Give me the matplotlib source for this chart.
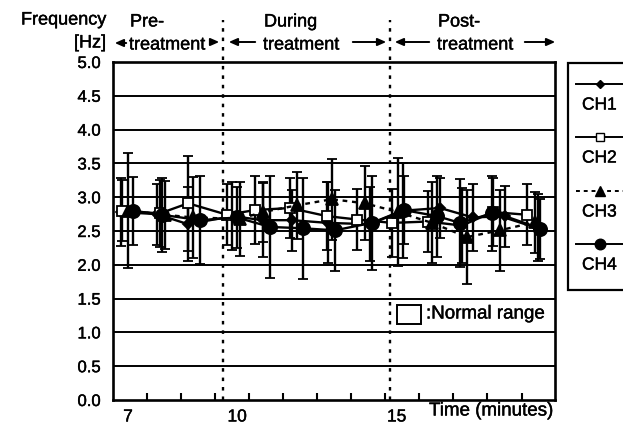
import numpy as np
import matplotlib
matplotlib.use("Agg")
import matplotlib.pyplot as plt
import matplotlib.patheffects as pe
from matplotlib.lines import Line2D
from matplotlib.patches import Rectangle, FancyArrowPatch

plt.rcParams['font.family'] = ['Liberation Sans', 'DejaVu Sans']

# ---- data (time in minutes, frequency in Hz, error = SD) ----
ch1_t = [6.79, 7.86, 8.79, 10.10, 11.02, 11.88, 12.95, 14.20, 15.18, 16.29, 17.27, 18.22, 19.20]
ch1_v = [2.78, 2.75, 2.60, 2.72, 2.66, 2.66, 2.62, 2.60, 2.80, 2.84, 2.70, 2.72, 2.55]
ch1_e = [0.50, 0.45, 0.55, 0.50, 0.55, 0.45, 0.60, 0.55, 0.70, 0.45, 0.50, 0.45, 0.50]

ch2_t = [6.82, 7.95, 8.79, 9.95, 10.78, 11.82, 12.92, 13.82, 14.86, 15.93, 16.94, 17.86, 18.88]
ch2_v = [2.80, 2.76, 2.91, 2.74, 2.81, 2.84, 2.72, 2.67, 2.62, 2.64, 2.58, 2.78, 2.74]
ch2_e = [0.45, 0.50, 0.70, 0.45, 0.50, 0.45, 0.50, 0.45, 0.50, 0.45, 0.55, 0.50, 0.45]

ch3_t = [7.00, 8.10, 8.93, 10.33, 11.02, 12.03, 13.07, 14.05, 15.04, 16.05, 17.09, 18.07, 19.11]
ch3_v = [2.80, 2.74, 2.70, 2.68, 2.78, 2.88, 2.97, 2.91, 2.78, 2.62, 2.41, 2.51, 2.63]
ch3_e = [0.85, 0.50, 0.60, 0.55, 0.45, 0.50, 0.60, 0.55, 0.80, 0.60, 0.70, 0.60, 0.45]

ch4_t = [7.15, 8.01, 9.14, 10.24, 11.23, 12.21, 13.16, 14.26, 15.21, 16.20, 16.88, 17.83, 19.26]
ch4_v = [2.80, 2.74, 2.66, 2.70, 2.56, 2.54, 2.51, 2.62, 2.81, 2.72, 2.62, 2.76, 2.53]
ch4_e = [0.50, 0.55, 0.65, 0.45, 0.75, 0.75, 0.60, 0.70, 0.50, 0.60, 0.65, 0.55, 0.45]

y_ticks = [0.0, 0.5, 1.0, 1.5, 2.0, 2.5, 3.0, 3.5, 4.0, 4.5, 5.0]
x_labels = ["7", "10", "15"]
x_label_pos = [7, 10.25, 15]
phase_bounds = [9.83, 14.80]

W, H = 623, 425
FX = dict(path_effects=[pe.withStroke(linewidth=0.3, foreground='black')])

fig = plt.figure(figsize=(W / 100, H / 100), dpi=100)
ax = fig.add_axes([113 / W, 1 - 400 / H, 442 / W, 338 / H])
ax.set_xlim(6.554, 19.71)
ax.set_ylim(0, 5.0)

# horizontal grid lines
for yv in y_ticks[1:-1]:
    ax.axhline(yv, color='black', lw=1.4, zorder=1)

# vertical phase separators (dotted, extending above axes)
for xb in phase_bounds:
    ax.plot([xb, xb], [0, 5.0 + 42 / 67.6], color='black', lw=1.7,
            linestyle=(0, (1.5, 2.5)), clip_on=False, zorder=2)

series = [
    (ch1_t, ch1_v, ch1_e, dict(marker='D', ms=5.5, mfc='black', ls='-')),
    (ch2_t, ch2_v, ch2_e, dict(marker='s', ms=7, mfc='white', ls='-')),
    (ch3_t, ch3_v, ch3_e, dict(marker='^', ms=8.5, mfc='black', ls=(0, (2, 2)))),
    (ch4_t, ch4_v, ch4_e, dict(marker='o', ms=9.5, mfc='black', ls='-')),
]
for t, v, e, st in series:
    ax.errorbar(t, v, yerr=e, color='black', ecolor='black', elinewidth=1.7,
                capsize=3.5, capthick=1.7, lw=1.7, mec='black', mew=1.3, zorder=3, **st)

# axes styling
for s in ax.spines.values():
    s.set_linewidth(1.9)
ax.set_yticks(y_ticks)
ax.set_yticklabels([f"{v:.1f}" for v in y_ticks], fontsize=12, **FX)
ax.tick_params(axis='y', length=0, pad=9)
minor_x = 7.57 + np.arange(12) * 1.013
ax.set_xticks(minor_x)
ax.set_xticklabels([])
ax.tick_params(axis='x', direction='in', length=5, width=1.5)
for lab, xp in zip(x_labels, x_label_pos):
    ax.text(xp, -0.14, lab, ha='center', va='top', fontsize=12.5,
            transform=ax.transData, clip_on=False, **FX)
fig.text(429 / W, 1 - 411 / H, "Time (minutes)", ha='left', va='center', fontsize=13.5, **FX)

# normal range key
fig.patches.append(Rectangle((397 / W, 1 - 324 / H), 24 / W, 19 / H,
                             transform=fig.transFigure, fc='white', ec='black', lw=1.4))
fig.text(426 / W, 1 - 314 / H, ":Normal range", ha='left', va='center', fontsize=13.5, **FX)

# header
fig.text(106 / W, 1 - 20 / H, "Frequency", ha='right', va='center', fontsize=13, **FX)
fig.text(106 / W, 1 - 43 / H, "[Hz]", ha='right', va='center', fontsize=13, **FX)

def arrow(x0, x1, y):
    fig.add_artist(FancyArrowPatch(
        (x0 / W, 1 - y / H), (x1 / W, 1 - y / H), transform=fig.transFigure,
        arrowstyle='-|>,head_length=5,head_width=2.2', color='black', lw=1.4,
        mutation_scale=1))

fig.text(130 / W, 1 - 22 / H, "Pre-", ha='left', va='center', fontsize=13, **FX)
fig.text(129 / W, 1 - 45 / H, "treatment", ha='left', va='center', fontsize=13, **FX)
fig.text(264 / W, 1 - 22 / H, "During", ha='left', va='center', fontsize=13, **FX)
fig.text(263 / W, 1 - 45 / H, "treatment", ha='left', va='center', fontsize=13, **FX)
fig.text(438 / W, 1 - 22 / H, "Post-", ha='left', va='center', fontsize=13, **FX)
fig.text(437 / W, 1 - 45 / H, "treatment", ha='left', va='center', fontsize=13, **FX)
arrow(129, 112, 43)
arrow(210, 222, 42)
arrow(258, 226, 42)
arrow(350, 389, 42)
arrow(432, 392, 42)
arrow(522, 558, 42)

# right legend
fig.patches.append(Rectangle((568 / W, 1 - 290 / H), 70 / W, 227 / H,
                             transform=fig.transFigure, fc='white', ec='black', lw=1.6,
                             clip_on=False))
names = ["CH1", "CH2", "CH3", "CH4"]
leg_y = [84, 137, 191, 244]
for (t, v, e, st), name, ly in zip(series, names, leg_y):
    yy = 1 - ly / H
    fig.add_artist(Line2D([576 / W, 623 / W], [yy, yy], transform=fig.transFigure,
                          color='black', lw=1.4, ls=st['ls']))
    fig.add_artist(Line2D([600 / W], [yy], transform=fig.transFigure, color='black',
                          marker=st['marker'], ms=st['ms'] * 0.8, mfc=st['mfc'], mec='black',
                          ls='none'))
    fig.text(582 / W, 1 - (ly + 21) / H, name, ha='left', va='center', fontsize=12.5, **FX)

fig.savefig("out.png", dpi=100)
